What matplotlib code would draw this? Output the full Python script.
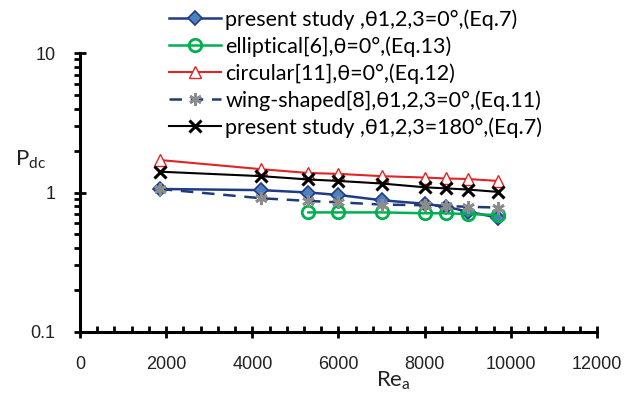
import matplotlib
matplotlib.use("Agg")
import matplotlib.pyplot as plt
from matplotlib.ticker import FixedLocator, LogLocator, NullFormatter, FixedFormatter

# Reynolds numbers of the operating points
re_present = [1850, 4200, 5300, 6000, 7000, 8000, 8500, 9000, 9700]
re_elliptical = [5300, 6000, 7000, 8000, 8500, 9000, 9700]

# Dimensionless pressure drop for each configuration
pdc_present_0 = [1.06, 1.04, 1.00, 0.96, 0.88, 0.83, 0.79, 0.73, 0.66]
pdc_elliptical = [0.72, 0.72, 0.72, 0.71, 0.71, 0.70, 0.69]
pdc_circular = [1.71, 1.47, 1.38, 1.36, 1.31, 1.28, 1.26, 1.25, 1.21]
pdc_wing = [1.06, 0.91, 0.87, 0.85, 0.82, 0.81, 0.80, 0.79, 0.78]
pdc_present_180 = [1.41, 1.31, 1.24, 1.21, 1.16, 1.09, 1.07, 1.05, 1.01]

labels = [
    "present study ,\u03b81,2,3=0\u00b0,(Eq.7)",
    "elliptical[6],\u03b8=0\u00b0,(Eq.13)",
    "circular[11],\u03b8=0\u00b0,(Eq.12)",
    "wing-shaped[8],\u03b81,2,3=0\u00b0,(Eq.11)",
    "present study ,\u03b81,2,3=180\u00b0,(Eq.7)",
]

x_ticks = [0, 2000, 4000, 6000, 8000, 10000, 12000]
y_ticks = [0.1, 1, 10]
y_tick_labels = ["0.1", "1", "10"]

tick_font = ["Liberation Sans", "DejaVu Sans"]
text_font = ["Lato", "DejaVu Sans"]

fig = plt.figure(figsize=(6.29, 3.94), dpi=100)
ax = fig.add_axes([80 / 629, 1 - 332 / 394, 517 / 629, 279 / 394])

h1, = ax.plot(re_present, pdc_present_0, color="#1f3c88", lw=1.8, marker="D",
              ms=7.5, mfc="#4f81bd", mec="#1f3c88", mew=1.2, zorder=3)
h2, = ax.plot(re_elliptical, pdc_elliptical, color="#00b050", lw=1.8, marker="o",
              ms=9, mfc="none", mec="#00b050", mew=2.0, zorder=4)
h3, = ax.plot(re_present, pdc_circular, color="#e02424", lw=1.5, marker="^",
              ms=8, mfc="white", mec="#e02424", mew=1.0, zorder=5)
h4, = ax.plot(re_present, pdc_wing, color="#1f3c78", lw=1.8, ls=(0, (5, 3.5)),
              marker=(6, 2, 0), ms=9, mec="#8c8c8c", mfc="#8c8c8c", mew=2.0, zorder=6)
h5, = ax.plot(re_present, pdc_present_180, color="black", lw=1.5, marker="x",
              ms=9, mec="black", mew=2.2, zorder=7)

ax.set_yscale("log")
ax.set_xlim(0, 12000)
ax.set_ylim(0.1, 10)

for side in ("top", "right"):
    ax.spines[side].set_visible(False)
for side in ("left", "bottom"):
    ax.spines[side].set_linewidth(2.2)
    ax.spines[side].set_color("black")

ax.xaxis.set_major_locator(FixedLocator(x_ticks))
ax.xaxis.set_minor_locator(FixedLocator(range(0, 12001, 400)))
ax.yaxis.set_major_locator(FixedLocator(y_ticks))
ax.yaxis.set_major_formatter(FixedFormatter(y_tick_labels))
ax.yaxis.set_minor_locator(LogLocator(base=10, subs=range(2, 10)))
ax.yaxis.set_minor_formatter(NullFormatter())

ax.tick_params(axis="x", which="major", direction="inout", length=9, width=2,
               pad=13, labelsize=13, labelcolor="#222222")
ax.tick_params(axis="x", which="minor", direction="in", length=4, width=2)
ax.tick_params(axis="y", which="major", direction="inout", length=9, width=2,
               pad=13, labelsize=13, labelcolor="#222222")
ax.tick_params(axis="y", which="minor", direction="out", length=4, width=2)
for lab in ax.get_xticklabels() + ax.get_yticklabels():
    lab.set_family(tick_font)

fig.text(15 / 629, 1 - 160 / 394, r"$\mathregular{P_{dc}}$", fontsize=16,
         family=text_font, ha="left", va="center", color="#222222")
fig.text(393 / 629, 1 - 381 / 394, r"$\mathregular{Re_{a}}$", fontsize=16,
         family=text_font, ha="center", va="center", color="#222222")

leg = fig.legend([h1, h2, h3, h4, h5], labels, loc="upper left",
                 bbox_to_anchor=(166 / 629, 1 - 6 / 394), frameon=False,
                 prop={"family": text_font, "size": 15.5}, handlelength=2.4,
                 handletextpad=0.2, labelspacing=0.3, borderaxespad=0,
                 borderpad=0.15, numpoints=1)

fig.savefig("out.png", dpi=100)
